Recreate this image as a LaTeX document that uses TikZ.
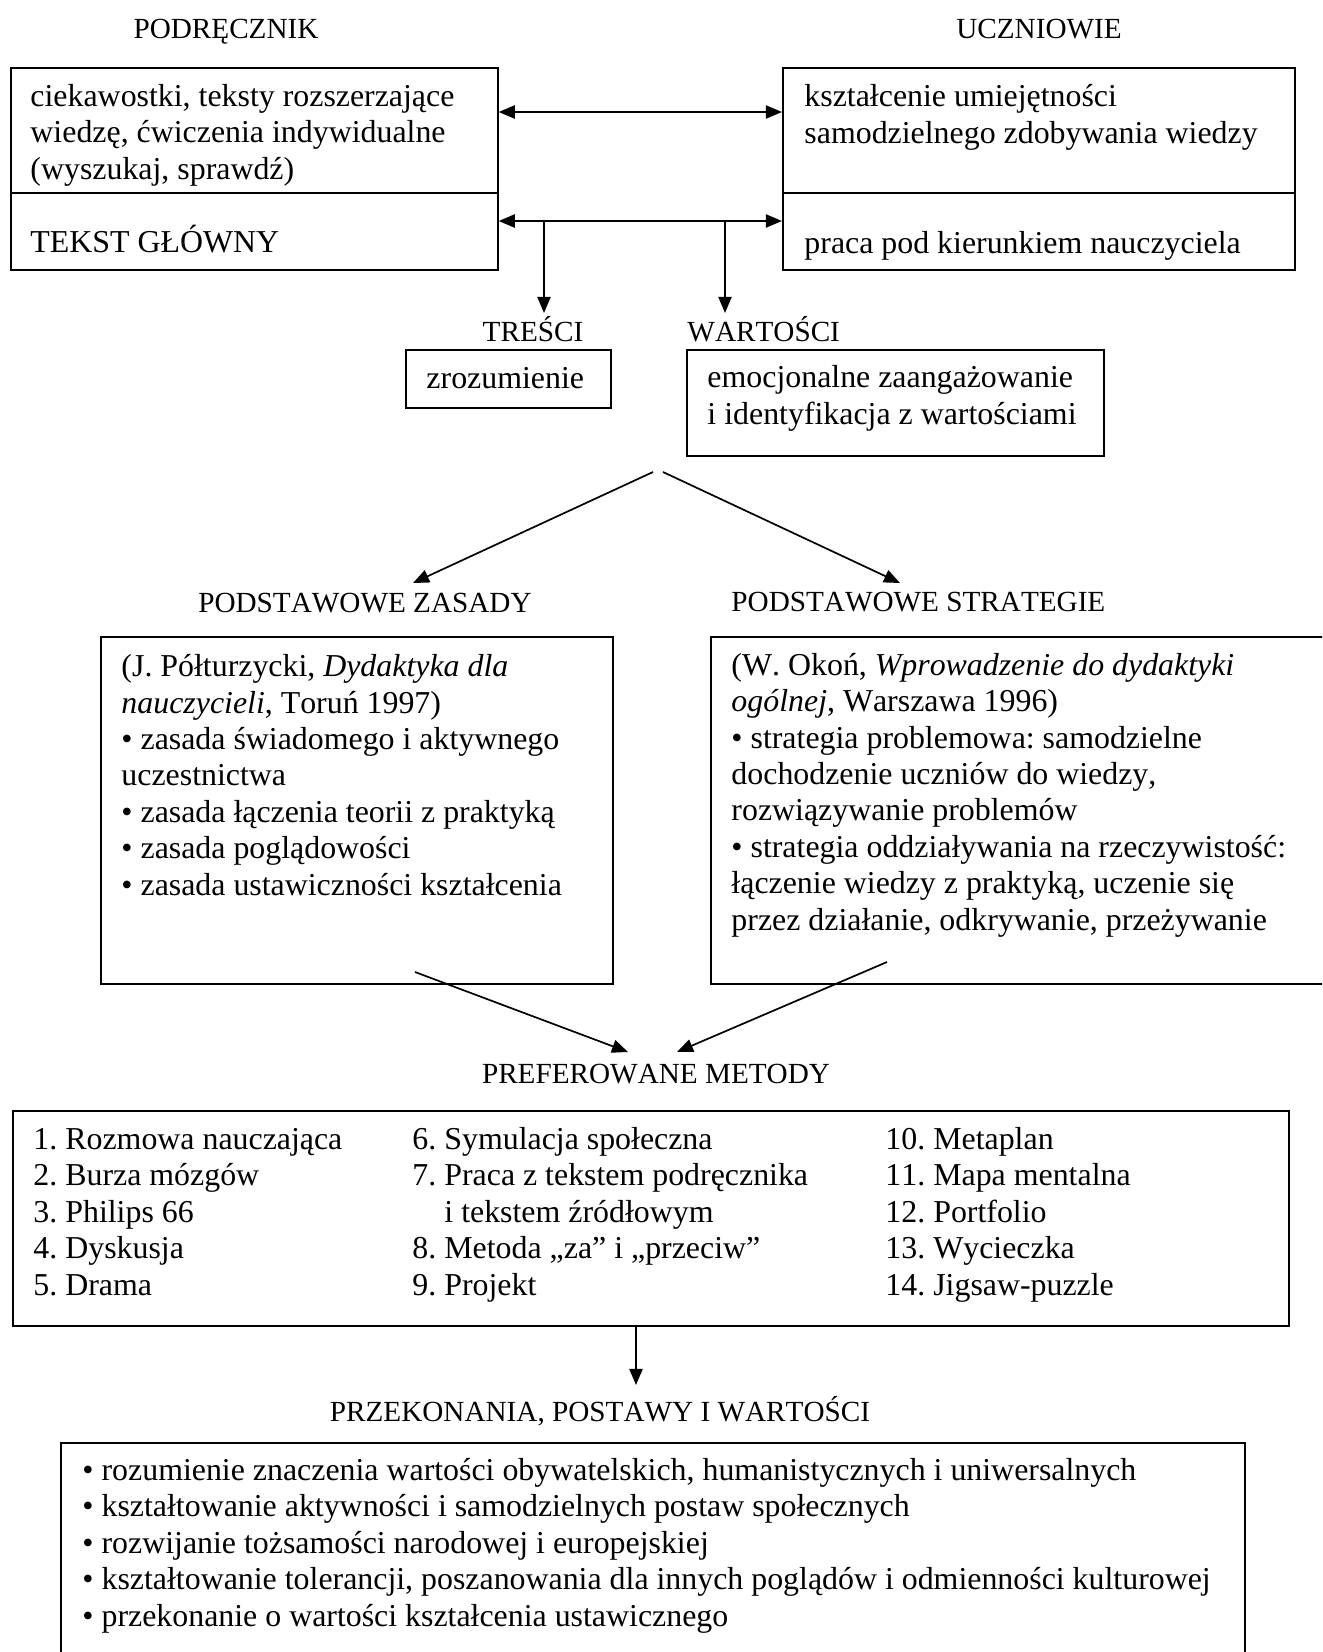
\documentclass[tikz,border=0pt]{standalone}
\usepackage{fontspec}
\setmainfont{Liberation Serif}[Kerning=Off]
\usetikzlibrary{arrows.meta}
\newlength{\pxu}
\setlength{\pxu}{0.411pt}
\frenchspacing

\begin{document}
\begin{tikzpicture}[x=\pxu, y=-\pxu,
        every node/.style={inner sep=0pt},
        box/.style={draw, line width=0.7pt, anchor=north west},
        title/.style={anchor=base, font=\fontsize{12}{13.8}\selectfont},
        txt/.style={anchor=base west, align=left, font=\fontsize{13.1}{14.95}\selectfont},
        arr/.style={line width=0.7pt, -{Triangle[length=6.6pt,width=5.4pt]}},
        dbl/.style={line width=0.7pt, {Triangle[length=6.6pt,width=5.4pt]}-{Triangle[length=6.6pt,width=5.4pt]}}]
      \useasboundingbox (0,0) rectangle (1322,1652);
      \clip (0,0) rectangle (1322,1652);
      \node [title] (podrlab) at (226,38) {PODRĘCZNIK};
      \node [title] (ucznlab) at (1039,38) {UCZNIOWIE};
      \node [box, minimum width=487\pxu, minimum height=202\pxu] (podr) at (10,67) {};
      \node [box, minimum width=512\pxu, minimum height=202\pxu] (uczn) at (782,67) {};
      \coordinate (cut) at (0,193);
      \draw [line width=0.7pt] (podr.west |- cut) -- (podr.east |- cut);
      \draw [line width=0.7pt] (uczn.west |- cut) -- (uczn.east |- cut);
      \node [txt] (podrtxt) at (30,179) {ciekawostki, teksty rozszerzające\\wiedzę, ćwiczenia indywidualne\\(wyszukaj, sprawdź)};
      \node [txt] (glowny) at (30,252) {TEKST GŁÓWNY};
      \node [txt] (uczntxt) at (804,143) {kształcenie umiejętności\\samodzielnego zdobywania wiedzy};
      \node [txt] (praca) at (804,253) {praca pod kierunkiem nauczyciela};
      \coordinate (rowup) at (0,112);
      \coordinate (rowdown) at (0,221);
      \draw [dbl] (podr.east |- rowup) -- (uczn.west |- rowup);
      \draw [dbl] (podr.east |- rowdown) -- (uczn.west |- rowdown);

      \node [title] (tresci) at (533,341) {TREŚCI};
      \node [title, anchor=base west] (wartlab) at (687,341) {WARTOŚCI};
      \coordinate (toTresci) at (544,313);
      \coordinate (toWart) at (725,313);
      \draw [arr] (toTresci |- rowdown) -- (toTresci);
      \draw [arr] (toWart |- rowdown) -- (toWart);
      \node [box, minimum width=205\pxu, minimum height=58\pxu] (zroz) at (405,349) {};
      \node [txt] (zroztxt) at (426,388) {zrozumienie};
      \node [box, minimum width=417\pxu, minimum height=106\pxu] (emocj) at (686,349) {};
      \node [txt] (emocjtxt) at (707,424) {emocjonalne zaangażowanie\\i identyfikacja z wartościami};

      \coordinate (fromL) at (653,472);
      \coordinate (fromR) at (663,472);
      \coordinate (toZasady) at (413,583);
      \coordinate (toStrat) at (900,583);
      \draw [arr] (fromL) -- (toZasady);
      \draw [arr] (fromR) -- (toStrat);
      \node [title] (zasady) at (365,612) {PODSTAWOWE ZASADY};
      \node [title, anchor=base west] (strat) at (731,611) {PODSTAWOWE STRATEGIE};
      \node [box, minimum width=512\pxu, minimum height=347\pxu] (zasbox) at (100,636) {};
      \node [box, minimum width=660\pxu, minimum height=347\pxu] (stratbox) at (710,636) {};
      \node [txt] (zastxt) at (121,895) {(J. Półturzycki, \textit{Dydaktyka dla}\\\textit{nauczycieli}, Toruń 1997)\\• zasada świadomego i aktywnego\\uczestnictwa\\• zasada łączenia teorii z praktyką\\• zasada poglądowości\\• zasada ustawiczności kształcenia};
      \node [txt] (strattxt) at (731,930) {(W. Okoń, \textit{Wprowadzenie do dydaktyki}\\\textit{ogólnej}, Warszawa 1996)\\• strategia problemowa: samodzielne\\dochodzenie uczniów do wiedzy,\\rozwiązywanie problemów\\• strategia oddziaływania na rzeczywistość:\\łączenie wiedzy z praktyką, uczenie się\\przez działanie, odkrywanie, przeżywanie};

      \coordinate (outZas) at (415,972);
      \coordinate (outStrat) at (887,962);
      \coordinate (inL) at (628,1052);
      \coordinate (inR) at (677,1052);
      \draw [arr] (outZas) -- (inL);
      \draw [arr] (outStrat) -- (inR);
      \node [title] (metlab) at (656,1083) {PREFEROWANE METODY};
      \node [box, minimum width=1276\pxu, minimum height=215\pxu] (metody) at (12,1110) {};
      \node [txt] (kol1) at (33,1295) {1. Rozmowa nauczająca\\2. Burza mózgów\\3. Philips 66\\4. Dyskusja\\5. Drama};
      \node [txt] (kol2) at (412,1295) {6. Symulacja społeczna\\7. Praca z tekstem podręcznika\\\hspace*{32\pxu}i tekstem źródłowym\\8. Metoda „za” i „przeciw”\\9. Projekt};
      \node [txt] (kol3) at (885,1295) {10. Metaplan\\11. Mapa mentalna\\12. Portfolio\\13. Wycieczka\\14. Jigsaw-puzzle};

      \coordinate (toPostawy) at (636,1385);
      \draw [arr] (metody.south -| toPostawy) -- (toPostawy);
      \node [title] (postlab) at (600,1421) {PRZEKONANIA, POSTAWY I WARTOŚCI};
      \node [box, minimum width=1184\pxu, minimum height=300\pxu] (postawy) at (60,1442) {};
      \node [txt] (posttxt) at (82,1626) {• rozumienie znaczenia wartości obywatelskich, humanistycznych i uniwersalnych\\• kształtowanie aktywności i samodzielnych postaw społecznych\\• rozwijanie tożsamości narodowej i europejskiej\\• kształtowanie tolerancji, poszanowania dla innych poglądów i odmienności kulturowej\\• przekonanie o wartości kształcenia ustawicznego};
\end{tikzpicture}
\end{document}
